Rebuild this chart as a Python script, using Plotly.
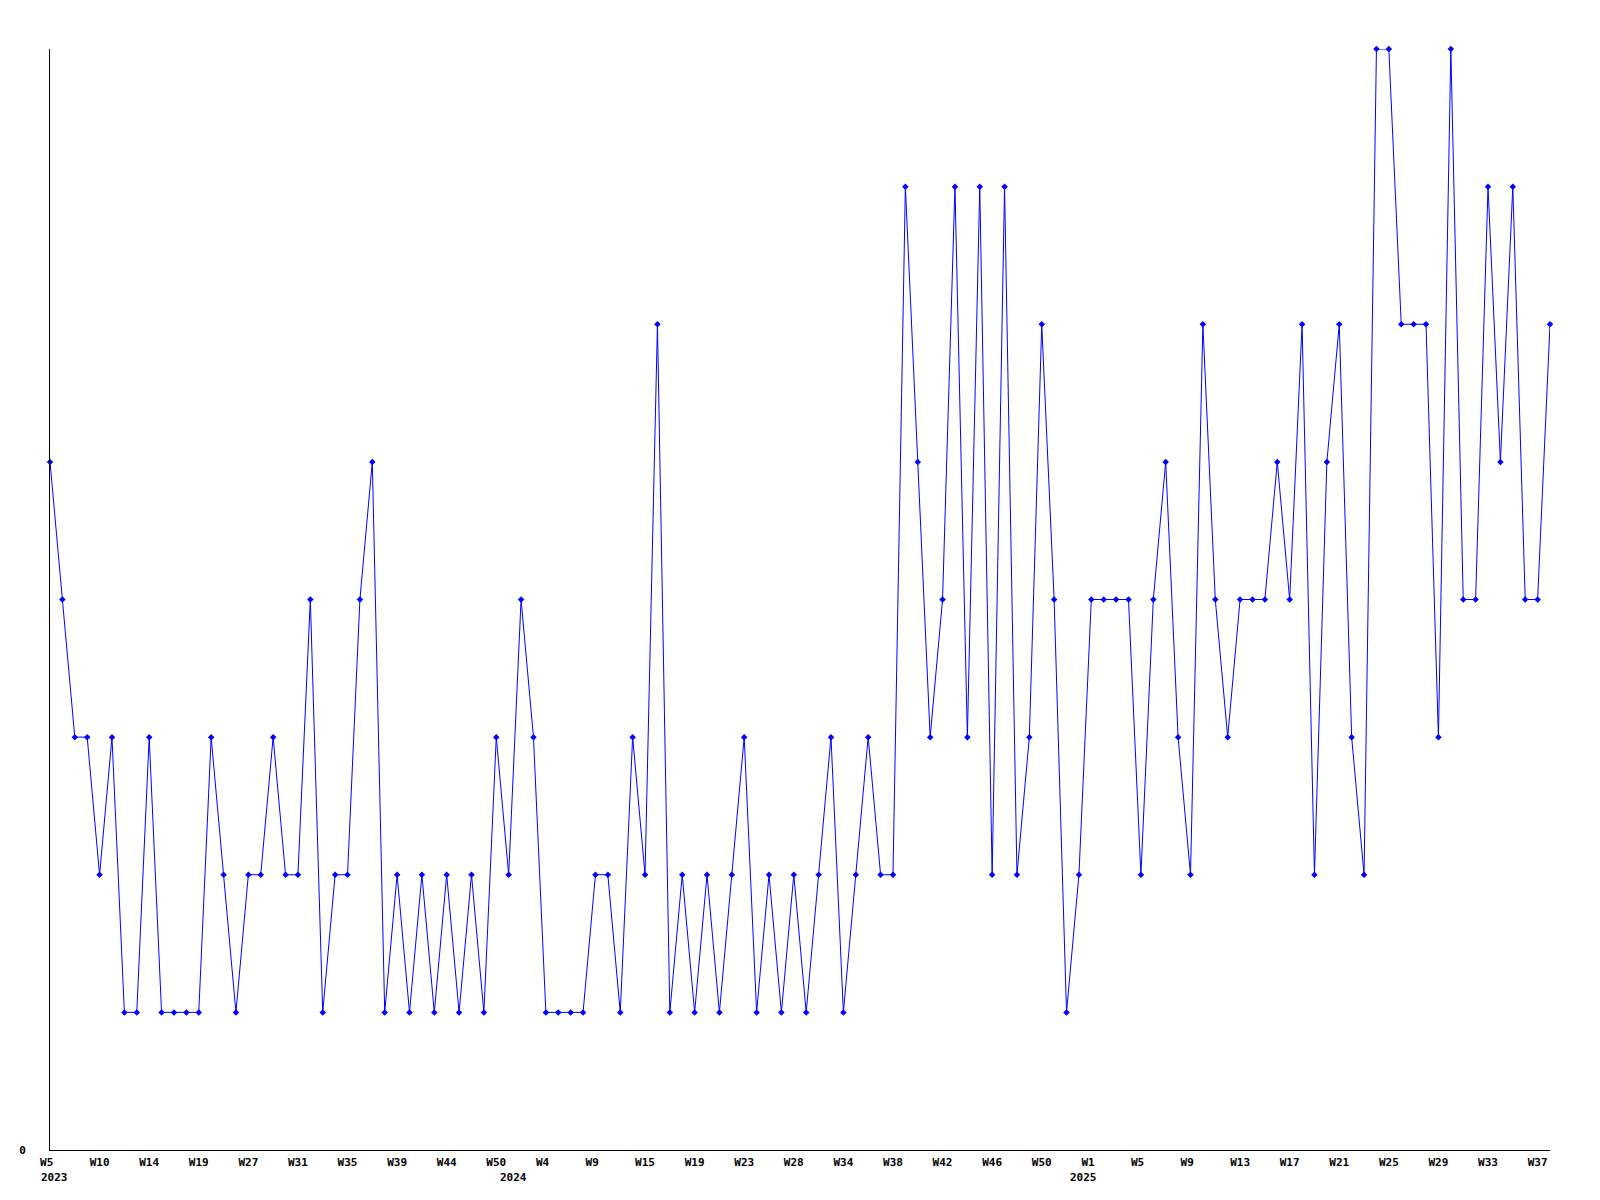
import plotly.graph_objects as go

# Weekly values (one per data week, in order)
values = [
    5, 4, 3, 3, 2, 3, 1, 1, 3, 1, 1, 1, 1, 3, 2, 1, 2, 2, 3, 2,
    2, 4, 1, 2, 2, 4, 5, 1, 2, 1, 2, 1, 2, 1, 2, 1, 3, 2, 4, 3,
    1, 1, 1, 1, 2, 2, 1, 3, 2, 6, 1, 2, 1, 2, 1, 2, 3, 1, 2, 1,
    2, 1, 2, 3, 1, 2, 3, 2, 2, 7, 5, 3, 4, 7, 3, 7, 2, 7, 2, 3,
    6, 4, 1, 2, 4, 4, 4, 4, 2, 4, 5, 3, 2, 6, 4, 3, 4, 4, 4, 5,
    4, 6, 2, 5, 6, 3, 2, 8, 8, 6, 6, 6, 3, 8, 4, 4, 7, 5, 7, 4,
    4, 6,
]

# Week tick labels, one every 4 data points
tick_labels = [
    "W5", "W10", "W14", "W19", "W27", "W31", "W35", "W39", "W44", "W50",
    "W4", "W9", "W15", "W19", "W23", "W28", "W34", "W38", "W42", "W46",
    "W50", "W1", "W5", "W9", "W13", "W17", "W21", "W25", "W29", "W33",
    "W37",
]
tick_step = 4

# Year labels and the data point where each year starts
year_labels = ["2023", "2024", "2025"]
year_starts = [0, 37, 83]

x = list(range(len(values)))
tickvals = [i * tick_step for i in range(len(tick_labels))]
ticktext = [t + "\u00a0" * (3 - len(t)) for t in tick_labels]

FONT = dict(family="DejaVu Sans Mono", size=11, color="black", weight="bold")

fig = go.Figure()
fig.add_trace(go.Scatter(
    x=x, y=values, mode="lines+markers",
    line=dict(color="#0000FF", width=1),
    marker=dict(symbol="diamond", size=5, color="#0000FF"),
    showlegend=False, cliponaxis=False,
))

for label, pos in zip(year_labels, year_starts):
    fig.add_annotation(
        x=pos, y=0, xref="x", yref="paper",
        text=label, showarrow=False,
        xanchor="left", yanchor="top",
        xshift=-11, yshift=-19,
        font=FONT,
    )

fig.update_layout(
    width=1584, height=1184,
    margin=dict(l=42, r=42, t=41, b=42),
    paper_bgcolor="white", plot_bgcolor="white",
    font=FONT,
)
fig.update_xaxes(
    range=[0, len(values) - 1],
    tickmode="array", tickvals=tickvals, ticktext=ticktext,
    showgrid=False, zeroline=False,
    showline=True, linecolor="black", linewidth=1,
    ticks="", tickfont=FONT, ticklabelstandoff=2,
)
fig.update_yaxes(
    range=[0, max(values)],
    tickmode="array", tickvals=[0], ticktext=["0"],
    showgrid=False, zeroline=False,
    showline=True, linecolor="black", linewidth=1,
    ticks="", tickfont=FONT, ticklabelstandoff=21,
)

fig.write_html("out.html")
